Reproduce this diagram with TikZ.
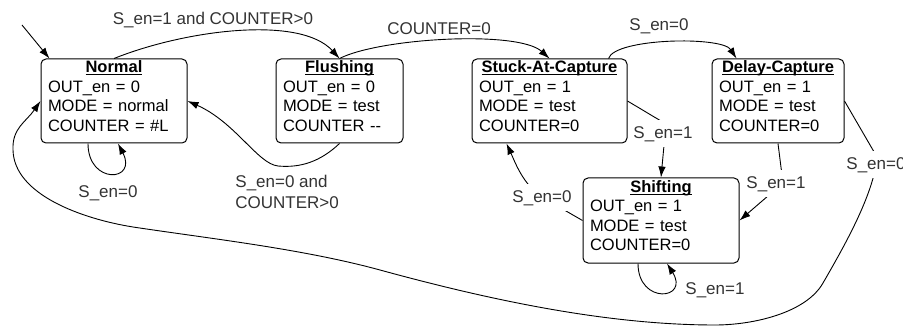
\documentclass[tikz,border=0pt]{standalone}
\usepackage{fontspec}
\setmainfont{Liberation Sans}
\usetikzlibrary{arrows.meta}

% bold title with an underline at a fixed depth
\newcommand{\sttitle}[1]{\setbox0\hbox{\textbf{#1}}\rlap{\rule[-2.2pt]{\wd0}{0.9pt}}\box0}

\begin{document}
\begin{tikzpicture}[x = 1pt, y = -1pt, line width = 0.9pt,
        >={Latex[length=11pt, width=7.5pt]},
        state/.style = {draw, line width = 1pt, rounded corners = 5pt, minimum height = 84pt,
                        inner xsep = 7pt, inner ysep = 0pt,
                        font = \fontsize{16.5}{19.5}\selectfont},
        cond/.style = {font = \fontsize{17}{21}\selectfont, text = black!80, inner sep = 0pt},
        cut/.style = {cond, fill = white, text height = 15pt, text depth = 4pt,
                      inner ysep = 4pt, inner xsep = 3pt}]
    \useasboundingbox (0, 0) rectangle (903, 326);

    % states
    \node[state, text width = 132pt] (normal) at (114, 101)
        {\centering\sttitle{Normal}\par\raggedright OUT\_en = 0\\MODE = normal\\COUNTER = \#L\rule[-10pt]{0pt}{0pt}};
    \node[state, text width = 113pt] (flush) at (339.5, 101)
        {\centering\sttitle{Flushing}\par\raggedright OUT\_en = 0\\MODE = test\\COUNTER {-}{-}\rule[-10pt]{0pt}{0pt}};
    \node[state, text width = 141pt] (stuck) at (549.5, 101)
        {\centering\sttitle{Stuck-At-Capture}\par\raggedright OUT\_en = 1\\MODE = test\\COUNTER=0\rule[-10pt]{0pt}{0pt}};
    \node[state, text width = 118pt] (delay) at (778, 101)
        {\centering\sttitle{Delay-Capture}\par\raggedright OUT\_en = 1\\MODE = test\\COUNTER=0\rule[-10pt]{0pt}{0pt}};
    \node[state, text width = 142pt, minimum height = 85pt] (shifting) at (661, 220.5)
        {\centering\sttitle{Shifting}\par\raggedright OUT\_en = 1\\MODE = test\\COUNTER=0\rule[-10pt]{0pt}{0pt}};

    % transitions
    \coordinate (start) at (22, 25);
    \draw[->] (start) -- ([xshift = 9pt]normal.north west);
    \draw[->] (normal.north) .. controls (185, 30) and (300, 15) .. (flush.north);
    \draw[->] (flush.north) .. controls (380, 38) and (518, 30) .. (stuck.north);
    \draw[->] ([xshift = -19pt]stuck.north east) .. controls (615, 38) and (722, 36) .. ([xshift = 25pt]delay.north west);
    \draw[->] (flush.south) .. controls (320, 162) and (300, 168) .. (278, 166)
                            .. controls (258, 164) and (235, 122) .. (normal.east);
    \draw[->] ([xshift = -26pt]normal.south) .. controls (88, 185) and (138, 182) .. ([xshift = 4pt]normal.south);
    \draw[->] ([xshift = -23pt]shifting.south) .. controls (638, 305) and (690, 300) .. ([xshift = 6pt]shifting.south);
    \draw[->] (stuck.east) -- (666, 124) -- (shifting.north);
    \draw[->] (delay.south) -- (783, 183) -- (shifting.east);
    \draw[->] (shifting.west) -- (540, 196) .. controls (522, 182) and (515, 162) .. ([xshift = 35pt]stuck.south west);
    \draw[->] (delay.east) -- (877, 157) .. controls (874, 195) and (842, 250) .. (823, 283)
                          .. controls (806, 313) and (753, 325) .. (715, 325)
                          .. controls (605, 325) and (486, 299) .. (380, 270)
                          .. controls (303, 249) and (213, 239) .. (133, 227)
                          .. controls (83, 219) and (14, 195) .. (13, 150)
                          .. controls (12, 128) and (26, 122) .. (normal.west);

    % conditions
    \node[cond, anchor = base] (lnf) at (213, 25) {S\_en=1 and COUNTER>0};
    \node[cond, anchor = base] (lfs) at (439, 35) {COUNTER=0};
    \node[cond, anchor = base] (lsd) at (659, 30.7) {S\_en=0};
    \node[cond, anchor = base] (lnn) at (108, 198) {S\_en=0};
    \node[cond, anchor = north west, align = left] (lfn) at (235, 174.5) {S\_en=0 and\\COUNTER>0};
    \node[cond, anchor = base west] (lhh) at (685, 294) {S\_en=1};
    \node[cut, anchor = base] (lsh) at (663, 139) {S\_en=1};
    \node[cut, anchor = base] (lhs) at (542, 203) {S\_en=0};
    \node[cut, anchor = base] (ldh) at (776, 189) {S\_en=1};
    \node[cut, anchor = base west] (ldn) at (843, 170) {S\_en=0};
\end{tikzpicture}
\end{document}
